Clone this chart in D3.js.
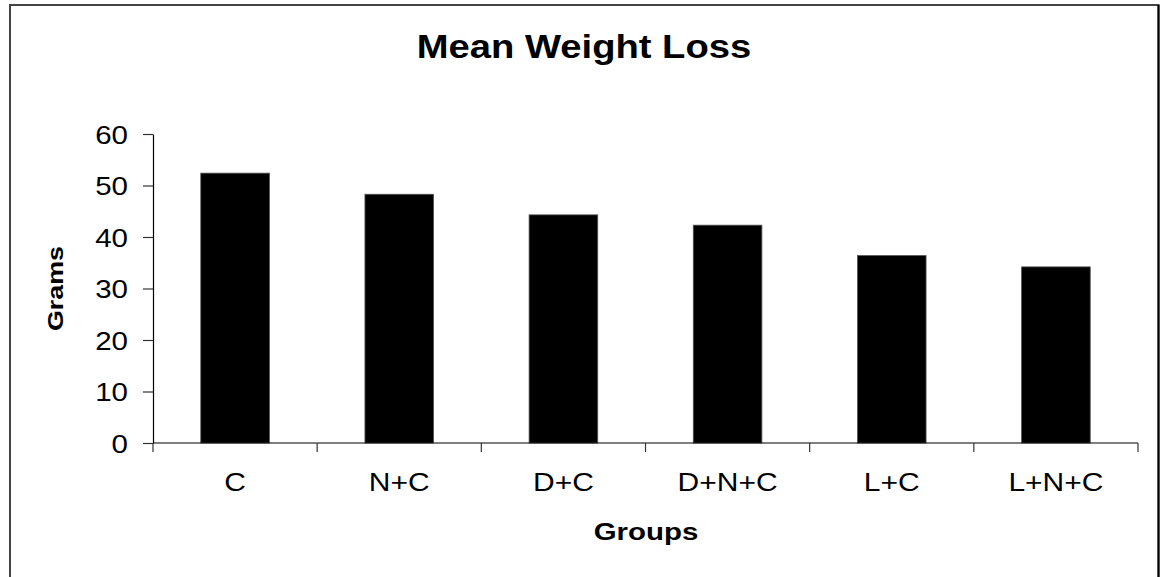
<!DOCTYPE html>
<html><head><meta charset="utf-8">
<script src="https://cdn.jsdelivr.net/npm/d3@7"></script>
<style>
html,body{margin:0;padding:0;background:#fff;}
svg{display:block;font-family:"Liberation Sans",Arial,sans-serif;}
</style></head>
<body>
<svg id="chart" width="1160" height="577"></svg>
<script>
const categories = ["C","N+C","D+C","D+N+C","L+C","L+N+C"];
const values = [52.4, 48.3, 44.3, 42.3, 36.4, 34.2];
const yTicks = [0,10,20,30,40,50,60];
const title = "Mean Weight Loss";
const xTitle = "Groups";
const yTitle = "Grams";

const svg = d3.select("#chart");
const W = 1160, H = 577;
const m = {left:153, right:1138, top:134, bottom:443};

// outer frame
svg.append("rect").attr("x",10).attr("y",5).attr("width",1148.5).attr("height",H+10)
  .attr("fill","#fff").attr("stroke","#444").attr("stroke-width",2);
svg.append("line").attr("x1",1158.5).attr("x2",1158.5).attr("y1",5).attr("y2",H)
  .attr("stroke","#000").attr("stroke-width",2);

const x = d3.scaleBand().domain(categories).range([m.left,m.right]).paddingInner(0.582).paddingOuter(0.291);
const y = d3.scaleLinear().domain([0,60]).range([m.bottom,m.top]);

// bars
svg.append("g").selectAll("rect").data(categories).join("rect")
  .attr("x",d=>x(d)).attr("width",x.bandwidth())
  .attr("y",(d,i)=>y(values[i])).attr("height",(d,i)=>y(0)-y(values[i]))
  .attr("fill","#000").attr("stroke","#555").attr("stroke-width",0.8);

// y axis
const yAxis = svg.append("g").attr("transform",`translate(${m.left},0)`)
  .call(d3.axisLeft(y).tickValues(yTicks).tickSize(10).tickSizeOuter(0).tickPadding(15));
yAxis.select(".domain").attr("stroke","#000").attr("stroke-width",1.2);
yAxis.selectAll(".tick line").attr("stroke","#333").attr("stroke-width",1.2);
yAxis.selectAll(".tick text").attr("font-size",25).attr("fill","#000")
  .attr("font-family","'Liberation Sans',Arial,sans-serif")
  .attr("x",null).attr("dy",null)
  .attr("transform","translate(-25,9) scale(1.18,1)");

// x axis with ticks at band boundaries
const xAxisG = svg.append("g").attr("transform",`translate(0,${m.bottom})`);
xAxisG.append("line").attr("x1",m.left).attr("x2",m.right).attr("stroke","#000").attr("stroke-width",1.2);
const bounds = categories.map(c=>x(c)-x.step()*x.paddingInner()/2).concat([m.right]);
xAxisG.selectAll("line.tk").data(bounds).join("line").attr("class","tk")
  .attr("x1",d=>d).attr("x2",d=>d).attr("y1",0).attr("y2",9)
  .attr("stroke","#333").attr("stroke-width",1.2);
xAxisG.selectAll("text").data(categories).join("text")
  .attr("transform",d=>`translate(${x(d)+x.bandwidth()/2},48) scale(1.2,1)`)
  .attr("text-anchor","middle").attr("font-size",25).attr("fill","#000").text(d=>d);

// titles
svg.append("text").attr("transform",`translate(584,57.5) scale(1.14,1)`)
  .attr("text-anchor","middle").attr("font-size",33.5).attr("font-weight","bold").text(title);
svg.append("text").attr("transform",`translate(646,539.5) scale(1.2,1)`)
  .attr("text-anchor","middle").attr("font-size",24.5).attr("font-weight","bold").text(xTitle);
svg.append("text").attr("transform",`translate(62.7,288.5) rotate(-90) scale(1.25,1)`)
  .attr("text-anchor","middle").attr("font-size",21.5).attr("font-weight","bold").text(yTitle);
</script>
</body></html>
